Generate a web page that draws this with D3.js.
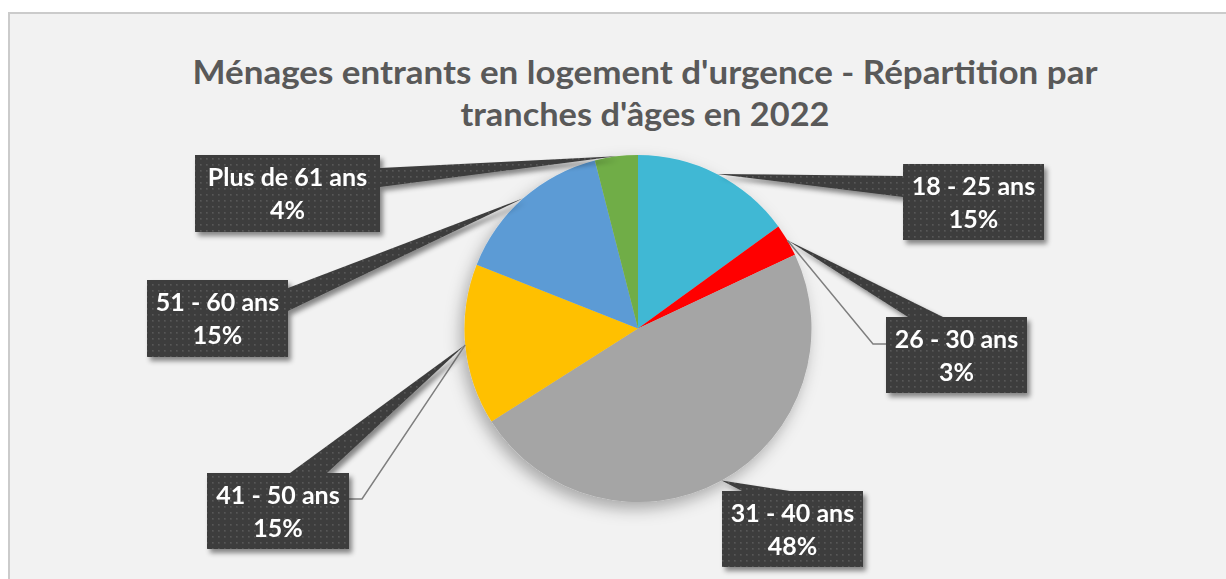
<!DOCTYPE html>
<html>
<head>
<meta charset="utf-8">
<script src="https://cdn.jsdelivr.net/npm/d3@7"></script>
<style>
  body { margin: 0; background: #fff; }
  svg { display: block; }
</style>
</head>
<body>
<svg id="chart"></svg>
<script>
const width = 1226
const height = 579

// données
const categories = ["18 - 25 ans", "26 - 30 ans", "31 - 40 ans", "41 - 50 ans", "51 - 60 ans", "Plus de 61 ans"]
const values = [15, 3, 48, 15, 15, 4]
const colors = ["#40b8d4", "#ff0000", "#a5a5a5", "#ffc000", "#5b9bd5", "#70ad47"]
const titleLines = ["Ménages entrants en logement d'urgence - Répartition par", "tranches d'âges en 2022"]

// placement des étiquettes (boîte, base de la flèche, trait de rappel)
const labelBoxes = [
  {box: [903, 164, 141, 76], base: [[903, 176], [903, 197]], leader: null},
  {box: [886, 317, 141, 76], base: [[908, 317], [943, 317]], leader: [[873, 344], [886, 344]]},
  {box: [722, 491, 141, 76], base: [[742, 491], [790, 491]], leader: null},
  {box: [207, 473, 142, 76], base: [[290, 473], [327, 473]], leader: [[362, 499], [349, 499]]},
  {box: [147, 280, 141, 77], base: [[288, 288], [288, 311]], leader: null},
  {box: [195, 155, 185, 77], base: [[380, 168], [380, 187]], leader: null}
]

const svg = d3.select('#chart').attr('width', width).attr('height', height)
const defs = svg.append('defs')

// motif à points des étiquettes
const pat = defs.append('pattern').attr('id', 'dots')
  .attr('width', 6).attr('height', 6).attr('patternUnits', 'userSpaceOnUse')
pat.append('rect').attr('width', 6).attr('height', 6).attr('fill', '#3e3e3e')
pat.append('rect').attr('x', 2).attr('y', 2).attr('width', 1.6).attr('height', 1.6).attr('fill', '#585858')

const fPie = defs.append('filter').attr('id', 'pieShadow')
  .attr('x', '-20%').attr('y', '-20%').attr('width', '140%').attr('height', '140%')
fPie.append('feDropShadow').attr('dx', -4).attr('dy', 7).attr('stdDeviation', 8)
  .attr('flood-color', '#000').attr('flood-opacity', 0.3)

const fBox = defs.append('filter').attr('id', 'boxShadow')
  .attr('x', '-20%').attr('y', '-20%').attr('width', '140%').attr('height', '140%')
fBox.append('feDropShadow').attr('dx', 3).attr('dy', 4).attr('stdDeviation', 2.5)
  .attr('flood-color', '#000').attr('flood-opacity', 0.45)

// fond
svg.append('rect').attr('x', 9).attr('y', 13).attr('width', width).attr('height', height)
  .attr('fill', '#f2f2f2').attr('stroke', '#cbcbcb').attr('stroke-width', 2)

// titre
const titleWidths = [905, 369]
svg.append('g').selectAll('text').data(titleLines).enter().append('text')
  .attr('x', 645)
  .attr('y', (d, i) => 84 + i * 42)
  .attr('text-anchor', 'middle')
  .attr('font-family', 'Lato, "Open Sans", sans-serif')
  .attr('font-weight', 'bold')
  .attr('font-size', 33)
  .attr('fill', '#595959')
  .attr('textLength', (d, i) => titleWidths[i])
  .attr('lengthAdjust', 'spacingAndGlyphs')
  .text(d => d)

// camembert
const cx = 638, cy = 328.5, r = 173.5
const pie = d3.pie().sort(null).value(d => d)
const arcs = pie(values)
const arc = d3.arc().innerRadius(0).outerRadius(r)
const edgeArc = d3.arc().innerRadius(r).outerRadius(r)

const gPie = svg.append('g').attr('transform', 'translate(' + cx + ',' + cy + ')')
  .attr('filter', 'url(#pieShadow)')
gPie.selectAll('path').data(arcs).enter().append('path')
  .attr('d', arc)
  .attr('fill', (d, i) => colors[i])

// traits de rappel
const tips = arcs.map(d => {
  const c = edgeArc.centroid(d)
  return [cx + c[0], cy + c[1]]
})

svg.append('g').selectAll('path').data(labelBoxes.filter(d => d.leader))
  .enter().append('path')
  .attr('d', d => {
    const i = labelBoxes.indexOf(d)
    return d3.line()([tips[i]].concat(d.leader))
  })
  .attr('fill', 'none')
  .attr('stroke', '#7f7f7f')
  .attr('stroke-width', 1.5)

// étiquettes
const gl = svg.append('g').selectAll('g').data(labelBoxes).enter().append('g')
  .attr('filter', 'url(#boxShadow)')

gl.append('path')
  .attr('d', (d, i) => d3.line()([tips[i], d.base[0], d.base[1]]) + 'Z')
  .attr('fill', 'url(#dots)')

gl.append('rect')
  .attr('x', d => d.box[0]).attr('y', d => d.box[1])
  .attr('width', d => d.box[2]).attr('height', d => d.box[3])
  .attr('fill', 'url(#dots)')

const fmt = v => v + '%'
gl.each(function (d, i) {
  const t = d3.select(this).append('text')
    .attr('text-anchor', 'middle')
    .attr('font-family', 'Lato, "Open Sans", sans-serif')
    .attr('font-weight', 'bold')
    .attr('font-size', 25)
    .attr('fill', '#ffffff')
  t.append('tspan').attr('x', d.box[0] + d.box[2] / 2).attr('y', d.box[1] + 31).text(categories[i])
  t.append('tspan').attr('x', d.box[0] + d.box[2] / 2).attr('y', d.box[1] + 64).text(fmt(values[i]))
})
</script>
</body>
</html>
